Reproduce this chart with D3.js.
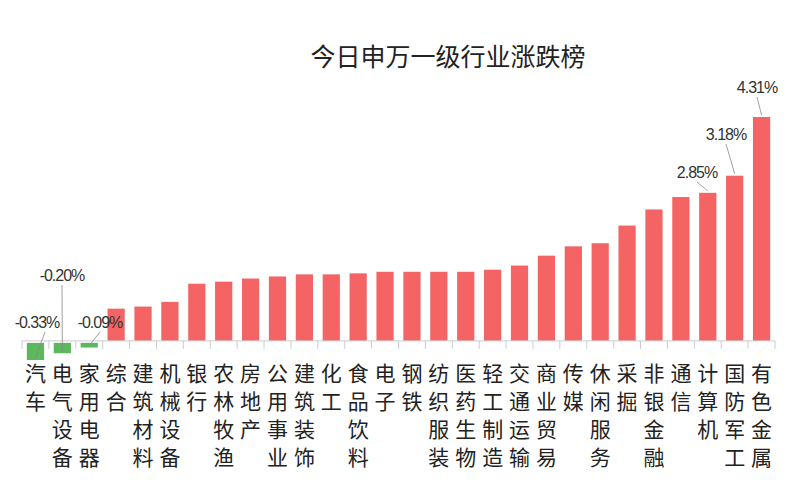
<!DOCTYPE html><html><head><meta charset="utf-8"><script src="https://cdn.jsdelivr.net/npm/d3@7"></script>
<style>body{margin:0;background:#fff}</style></head><body><svg width="800" height="500"></svg>
<script>
const categories=["汽车","电气设备","家用电器","综合","建筑材料","机械设备","银行","农林牧渔","房地产","公用事业","建筑装饰","化工","食品饮料","电子","钢铁","纺织服装","医药生物","轻工制造","交通运输","商业贸易","传媒","休闲服务","采掘","非银金融","通信","计算机","国防军工","有色金属"];
const values=[-0.33,-0.20,-0.09,0.62,0.66,0.75,1.10,1.14,1.20,1.24,1.28,1.28,1.30,1.33,1.33,1.33,1.33,1.37,1.45,1.64,1.82,1.88,2.22,2.53,2.77,2.85,3.18,4.31];
const labels={"汽车":"-0.33%","电气设备":"-0.20%","家用电器":"-0.09%","计算机":"2.85%","国防军工":"3.18%","有色金属":"4.31%"};
const svg=d3.select("svg");
const x=d3.scaleBand().domain(categories).range([22,775]).paddingInner(0.36).paddingOuter(0.18);
const y=d3.scaleLinear().domain([-0.33,4.31]).range([358,117]);
const y0=y(0);
svg.append("text").attr("x",448).attr("y",66).attr("text-anchor","middle").attr("font-size",25).attr("font-family","Noto Sans CJK SC").attr("fill","#222").text("今日申万一级行业涨跌榜");
svg.selectAll("rect.b").data(categories).join("rect").attr("x",d=>x(d)).attr("width",x.bandwidth())
 .attr("y",(d,i)=>Math.min(y(values[i]),y0+ (values[i]<0?2:0))).attr("height",(d,i)=>Math.abs(y(values[i])-y0))
 .attr("fill",(d,i)=>values[i]<0?"#5cb85c":"#f46464");
const ax=svg.append("g");
ax.append("line").attr("x1",22).attr("x2",775).attr("y1",y0).attr("y2",y0).attr("stroke","#ccc");
const step=x.step();
categories.forEach((c,i)=>{const tx=x(c)-step*0.18;ax.append("line").attr("x1",tx).attr("x2",tx).attr("y1",y0).attr("y2",y0+8).attr("stroke","#ccc");});
ax.append("line").attr("x1",775).attr("x2",775).attr("y1",y0).attr("y2",y0+8).attr("stroke","#ccc");
categories.forEach(c=>{const t=svg.append("text").attr("font-size",21).attr("font-family","Noto Sans CJK SC").attr("fill","#222").attr("text-anchor","middle");
 [...c].forEach((ch,k)=>t.append("tspan").attr("x",x(c)+x.bandwidth()/2).attr("y",y0+40+k*28).text(ch));});
const lp={"汽车":[37,328],"电气设备":[62,281],"家用电器":[100,328],"计算机":[697,178],"国防军工":[726,140],"有色金属":[757,93]};
Object.entries(labels).forEach(([c,t])=>{const [lx,ly]=lp[c];const cx=x(c)+x.bandwidth()/2;const v=values[categories.indexOf(c)];
 svg.append("line").attr("x1",lx+(c==="汽车"?8:0)).attr("y1",ly+4).attr("x2",cx).attr("y2",v<0?y(v):y(v)-2).attr("stroke","#888").attr("stroke-width",0.8);
 svg.append("text").attr("x",lx).attr("y",ly).attr("text-anchor","middle").attr("font-size",16).attr("font-family","Liberation Sans").attr("fill","#333").attr("letter-spacing",-1).text(t);});
</script></body></html>
